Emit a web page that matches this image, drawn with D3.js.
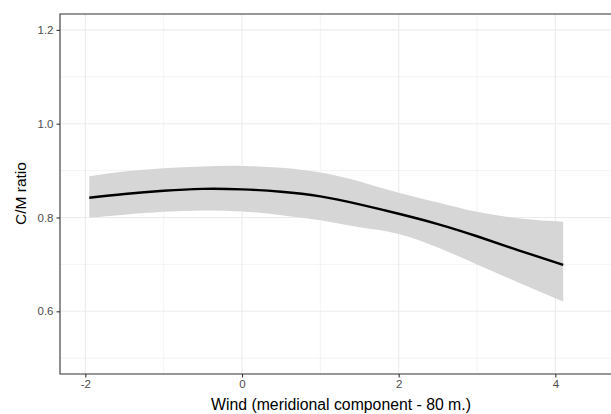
<!DOCTYPE html>
<html>
<head>
<meta charset="utf-8">
<script src="https://cdn.jsdelivr.net/npm/d3@7"></script>
<style>
  html, body { margin: 0; padding: 0; background: #fff; overflow: hidden; width: 611px; height: 414px; }
  #wrap { width: 611px; height: 414px; overflow: hidden; }
  svg { display: block; font-family: "Liberation Sans", Arial, Helvetica, sans-serif; }
</style>
</head>
<body>
<div id="wrap"><svg id="chart" width="611" height="414"></svg></div>
<script>
// Smoothed fit of C/M ratio against meridional wind, with its confidence band
const windX   = [-1.95, -1.5, -1.0, -0.5, 0.0, 0.5, 1.0, 1.5, 2.0, 2.5, 3.0, 3.55, 4.1];
const fitY    = [0.842, 0.850, 0.857, 0.861, 0.860, 0.855, 0.845, 0.828, 0.808, 0.786, 0.760, 0.729, 0.699];
const upperY  = [0.888, 0.898, 0.905, 0.909, 0.910, 0.906, 0.896, 0.877, 0.853, 0.832, 0.812, 0.798, 0.791];
const lowerY  = [0.800, 0.806, 0.812, 0.815, 0.813, 0.805, 0.794, 0.779, 0.765, 0.736, 0.700, 0.660, 0.621];

const xMajorTicks = [-2, 0, 2, 4];
const xMinorTicks = [-1, 1, 3];
const yMajorTicks = [0.6, 0.8, 1.0, 1.2];
const yMinorTicks = [0.5, 0.7, 0.9, 1.1];
const xTitle = "Wind (meridional component - 80 m.)";
const yTitle = "C/M ratio";

const svg = d3.select("#chart");
// the panel is cut off at the right edge of the canvas, so no right border is drawn
const panel = { left: 60, top: 14, right: 611, bottom: 374 };

const x = d3.scaleLinear().domain([-2.3235, 4.7105]).range([panel.left, panel.right]);
const y = d3.scaleLinear().domain([0.4663, 1.2339]).range([panel.bottom, panel.top]);

const rows = windX.map((w, i) => ({ x: w, fit: fitY[i], lo: lowerY[i], hi: upperY[i] }));

const g = svg.append("g");

// grid
g.selectAll(".xminor").data(xMinorTicks).join("line")
  .attr("x1", d => x(d)).attr("x2", d => x(d))
  .attr("y1", panel.top).attr("y2", panel.bottom)
  .attr("stroke", "#EBEBEB").attr("stroke-width", 0.6);
g.selectAll(".yminor").data(yMinorTicks).join("line")
  .attr("y1", d => y(d)).attr("y2", d => y(d))
  .attr("x1", panel.left).attr("x2", panel.right)
  .attr("stroke", "#EBEBEB").attr("stroke-width", 0.6);
g.selectAll(".xmajor").data(xMajorTicks).join("line")
  .attr("x1", d => x(d)).attr("x2", d => x(d))
  .attr("y1", panel.top).attr("y2", panel.bottom)
  .attr("stroke", "#EBEBEB").attr("stroke-width", 1.1);
g.selectAll(".ymajor").data(yMajorTicks).join("line")
  .attr("y1", d => y(d)).attr("y2", d => y(d))
  .attr("x1", panel.left).attr("x2", panel.right)
  .attr("stroke", "#EBEBEB").attr("stroke-width", 1.1);

// confidence ribbon
const band = d3.area()
  .x(d => x(d.x)).y0(d => y(d.lo)).y1(d => y(d.hi))
  .curve(d3.curveNatural);
g.append("path").datum(rows)
  .attr("d", band)
  .attr("fill", "#D6D6D6");

// fitted line
const line = d3.line()
  .x(d => x(d.x)).y(d => y(d.fit))
  .curve(d3.curveNatural);
g.append("path").datum(rows)
  .attr("d", line)
  .attr("fill", "none")
  .attr("stroke", "#000")
  .attr("stroke-width", 2.4);

// panel border: top, left and bottom edges
g.append("path")
  .attr("d", `M${panel.right},${panel.top}H${panel.left}V${panel.bottom}H${panel.right}`)
  .attr("fill", "none").attr("stroke", "#333333").attr("stroke-width", 1.1);

// axes
const xAxis = d3.axisBottom(x).tickValues(xMajorTicks).tickSize(3.5).tickPadding(2.5)
  .tickFormat(d => d < 0 ? "-" + Math.abs(d) : String(d));
const yAxis = d3.axisLeft(y).tickValues(yMajorTicks).tickSize(3.5).tickPadding(3)
  .tickFormat(d3.format(".1f"));

const gx = svg.append("g").attr("transform", `translate(0,${panel.bottom})`).call(xAxis);
const gy = svg.append("g").attr("transform", `translate(${panel.left},0)`).call(yAxis);
[gx, gy].forEach(a => {
  a.select(".domain").remove();
  a.selectAll(".tick line").attr("stroke", "#333333").attr("stroke-width", 1.1);
  a.selectAll(".tick text").attr("fill", "#4D4D4D").style("font-size", "11.5px")
    .style("font-family", "\"Liberation Sans\", Arial, sans-serif");
});

// axis titles
svg.append("text")
  .attr("x", 341).attr("y", 410)
  .attr("text-anchor", "middle")
  .style("font-size", "15.8px").attr("fill", "#000")
  .text(xTitle);
svg.append("text")
  .attr("transform", `translate(26,${(panel.top + panel.bottom) / 2 - 0.5}) rotate(-90)`)
  .attr("text-anchor", "middle")
  .style("font-size", "15.5px").attr("fill", "#000")
  .text(yTitle);
</script>
</body>
</html>
